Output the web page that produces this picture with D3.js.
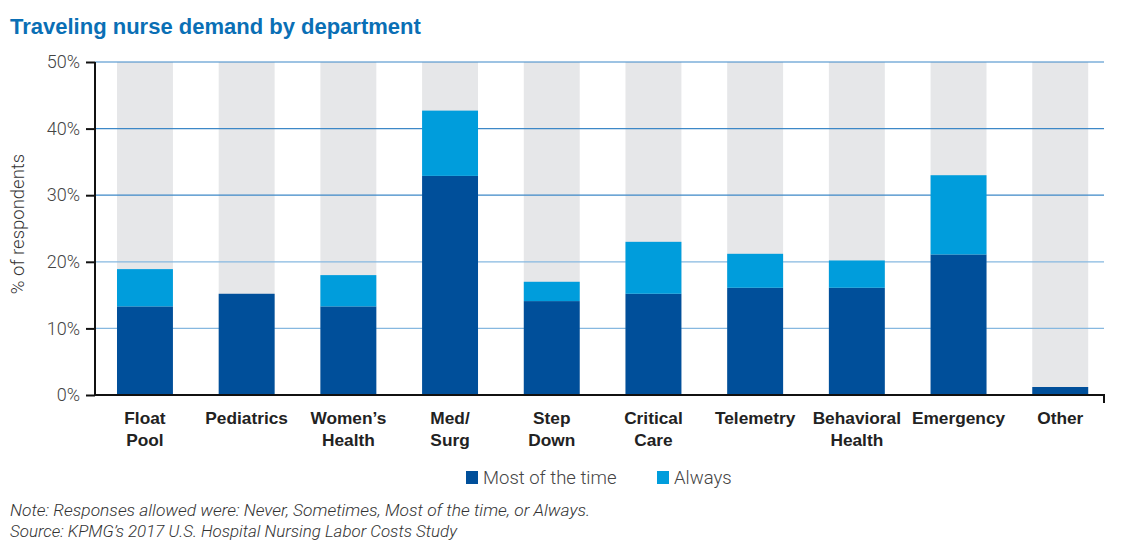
<!DOCTYPE html>
<html><head><meta charset="utf-8">
<script src="https://cdn.jsdelivr.net/npm/d3@7"></script>
<style>
body{margin:0;background:#fff;}
svg{display:block;}
</style></head>
<body><svg id="c" width="1127" height="547"></svg>
<script>
const categories = [["Float","Pool"],["Pediatrics"],["Women’s","Health"],["Med/","Surg"],["Step","Down"],["Critical","Care"],["Telemetry"],["Behavioral","Health"],["Emergency"],["Other"]];
const mostOfTheTime = [13.3,15.2,13.3,32.9,14.1,15.2,16.1,16.1,21.1,1.2];
const always = [5.6,0,4.7,9.8,2.9,7.8,5.1,4.1,11.9,0];
const yTicks = [0,10,20,30,40,50];
const seriesNames = ["Most of the time","Always"];
const colors = {dark:"#004f9a", light:"#009ddc", bg:"#e6e7e9", grid:"#3d88c7", title:"#0a6fb5"};

const svg = d3.select("#c");
const m = {l:95, r:1104, t:62, b:395};
const x = d3.scaleBand().domain(d3.range(categories.length)).range([m.l, 1110.2]).paddingInner(0.45).paddingOuter(0.2163);
const y = d3.scaleLinear().domain([0,50]).range([m.b, m.t]);

const light = "Roboto, 'Liberation Sans', sans-serif";
const bold = "'Liberation Sans', Arial, sans-serif";

svg.append("text").attr("x",10).attr("y",34).attr("fill",colors.title)
  .style("font-family",bold).style("font-weight","700").style("font-size","22px")
  .text("Traveling nurse demand by department");

// background bars
svg.append("g").selectAll("rect").data(categories).join("rect")
  .attr("x",(d,i)=>x(i)).attr("width",x.bandwidth())
  .attr("y",y(50)).attr("height",y(0)-y(50)).attr("fill",colors.bg);

// gridlines
svg.append("g").selectAll("line").data(yTicks.filter(t=>t>0)).join("line")
  .attr("x1",m.l).attr("x2",m.r).attr("y1",d=>y(d)).attr("y2",d=>y(d))
  .attr("stroke",d=>d<=20?"#86b8e0":colors.grid).attr("stroke-width",1.2);

// stacked bars
const stack = categories.map((c,i)=>({i, a:mostOfTheTime[i], b:always[i]}));
svg.append("g").selectAll("rect").data(stack).join("rect")
  .attr("x",d=>x(d.i)).attr("width",x.bandwidth())
  .attr("y",d=>y(d.a)).attr("height",d=>y(0)-y(d.a)).attr("fill",colors.dark);
svg.append("g").selectAll("rect").data(stack.filter(d=>d.b>0)).join("rect")
  .attr("x",d=>x(d.i)).attr("width",x.bandwidth())
  .attr("y",d=>y(d.a+d.b)).attr("height",d=>y(d.a)-y(d.a+d.b)).attr("fill",colors.light);

// y axis
const yAxis = svg.append("g").attr("transform",`translate(${m.l},0)`)
  .call(d3.axisLeft(y).tickValues(yTicks).tickFormat(d=>d+"%").tickSize(9).tickPadding(6));
yAxis.select(".domain").attr("d",`M0,${y(50)}V${y(0)}`).attr("stroke","#111").attr("stroke-width",2);
yAxis.selectAll(".tick line").attr("stroke","#111").attr("stroke-width",2);
yAxis.selectAll(".tick text").attr("fill","#444")
  .style("font-family",light).style("font-weight","300").style("font-size","18px");

// x axis baseline
svg.append("path").attr("d",`M${m.l},${y(0)}H${m.r}V${y(0)+8}`).attr("fill","none").attr("stroke","#111").attr("stroke-width",2);

// x labels
const xl = svg.append("g").selectAll("text").data(categories).join("text")
  .attr("x",(d,i)=>x(i)+x.bandwidth()/2).attr("y",424).attr("text-anchor","middle").attr("fill","#222")
  .style("font-family",bold).style("font-weight","700").style("font-size","17.3px");
xl.selectAll("tspan").data(d=>d).join("tspan").attr("x",function(){return this.parentNode.getAttribute("x");})
  .attr("y",(d,i)=>424+i*21.7).text(d=>d);

// y label
svg.append("text").attr("transform",`translate(24,224) rotate(-90)`).attr("text-anchor","middle").attr("fill","#333")
  .style("font-family",light).style("font-weight","300").style("font-size","18.5px")
  .text("% of respondents");

// legend
const leg = svg.append("g");
const legX = [466, 657];
seriesNames.forEach((n,i)=>{
  leg.append("rect").attr("x",legX[i]).attr("y",471).attr("width",12).attr("height",13).attr("fill",i===0?colors.dark:colors.light);
  leg.append("text").attr("x",legX[i]+17).attr("y",484).attr("fill","#444")
    .style("font-family",light).style("font-weight","300").style("font-size","18.5px").text(n);
});

// notes
const notes = ["Note: Responses allowed were: Never, Sometimes, Most of the time, or Always.","Source: KPMG’s 2017 U.S. Hospital Nursing Labor Costs Study"];
const noteW = [580, 447];
svg.append("g").selectAll("text").data(notes).join("text")
  .attr("x",10).attr("y",(d,i)=>516+i*21).attr("fill","#333")
  .attr("textLength",(d,i)=>noteW[i]).attr("lengthAdjust","spacingAndGlyphs")
  .style("font-family",light).style("font-weight","300").style("font-style","italic").style("font-size","16.5px")
  .text(d=>d);
</script></body></html>
